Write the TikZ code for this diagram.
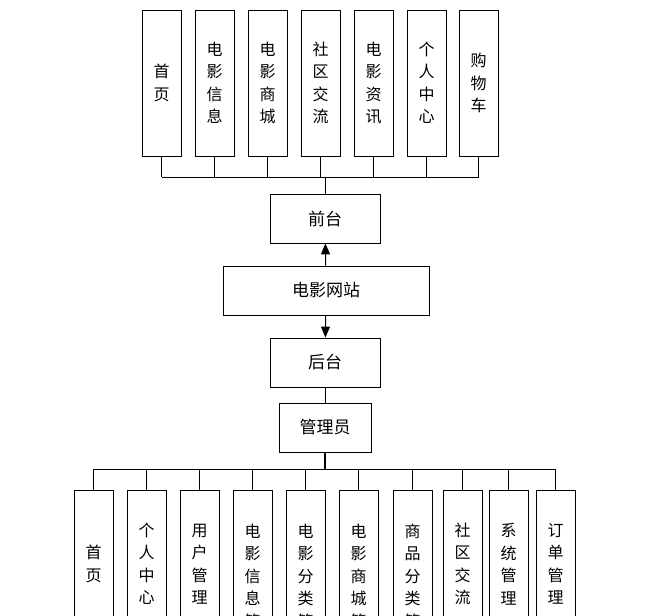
\documentclass[tikz,border=0pt]{standalone}
\usepackage{fontspec}
\setmainfont{Noto Sans CJK SC}
\usetikzlibrary{arrows.meta,positioning}
\tikzset{
  box/.style={draw, line width=0.8pt, fill=white, font=\fontsize{17}{20}\selectfont, inner sep=0pt},
  vbox/.style={draw, line width=0.8pt, minimum width=39pt},
  vtext/.style={align=center, inner sep=0pt, font=\fontsize{16}{22.5}\selectfont},
  bus/.style={line width=0.8pt},
}
\begin{document}
\begin{tikzpicture}[x=1pt,y=-1pt,>={Triangle[width=9pt,length=11pt]}]
  \useasboundingbox (0,0) rectangle (662,616);
  \begin{scope}
  \clip (0,0) rectangle (662,616);

  % centre part
  \node[box, minimum width=110pt, minimum height=49pt] (front) at (325,218.5) {前台};
  \node[box, minimum width=206pt, minimum height=49pt] (site) at (326,290.5) {电影网站};
  \node[box, minimum width=110pt, minimum height=49pt] (back) at (325,362.5) {后台};
  \node[box, minimum width=92pt, minimum height=49pt] (admin) at (325,427.5) {管理员};

  \draw[->, line width=1pt] (site) -- (front);
  \draw[->, line width=1pt] (site) -- (back);
  \draw[bus] (back) -- (admin);

  % front modules
  \foreach \name/\x/\txt in {f1/161.5/首\\页, f2/214.5/电\\影\\信\\息, f3/267.5/电\\影\\商\\城,
      f4/320.5/社\\区\\交\\流, f5/373.5/电\\影\\资\\讯, f6/426.5/个\\人\\中\\心, f7/478.5/购\\物\\车} {
    \node[vbox, minimum height=146pt] (\name) at (\x,83) {};
    \node[vtext] at (\x,83) {\txt};
    \draw[bus] (\name.south) -- (\x,177);
  }
  \draw[bus] (f1.south |- 0,177) -- (f7.south |- 0,177);
  \draw[bus] (front.north) -- (325,177);

  % back modules
  \foreach \name/\x/\ty/\txt in {b1/93.5/564/首\\页, b2/146.5/564/个\\人\\中\\心, b3/199.5/564/用\\户\\管\\理,
      b4/252.5/587/电\\影\\信\\息\\管\\理, b5/305.5/587/电\\影\\分\\类\\管\\理, b6/358.5/587/电\\影\\商\\城\\管\\理,
      b7/412.5/587/商\\品\\分\\类\\管\\理, b8/462.5/564/社\\区\\交\\流, b9/508.5/564/系\\统\\管\\理, b10/555.5/564/订\\单\\管\\理} {
    \node[vbox, minimum height=190pt] (\name) at (\x,585) {};
    \node[vtext] at (\x,\ty) {\txt};
    \draw[bus] (\name.north) -- (\x,469);
  }
  \draw[bus] (b1.north |- 0,469) -- (b10.north |- 0,469);
  \draw[line width=1.6pt] (admin.south) -- (325,469);
  \end{scope}
\end{tikzpicture}
\end{document}
